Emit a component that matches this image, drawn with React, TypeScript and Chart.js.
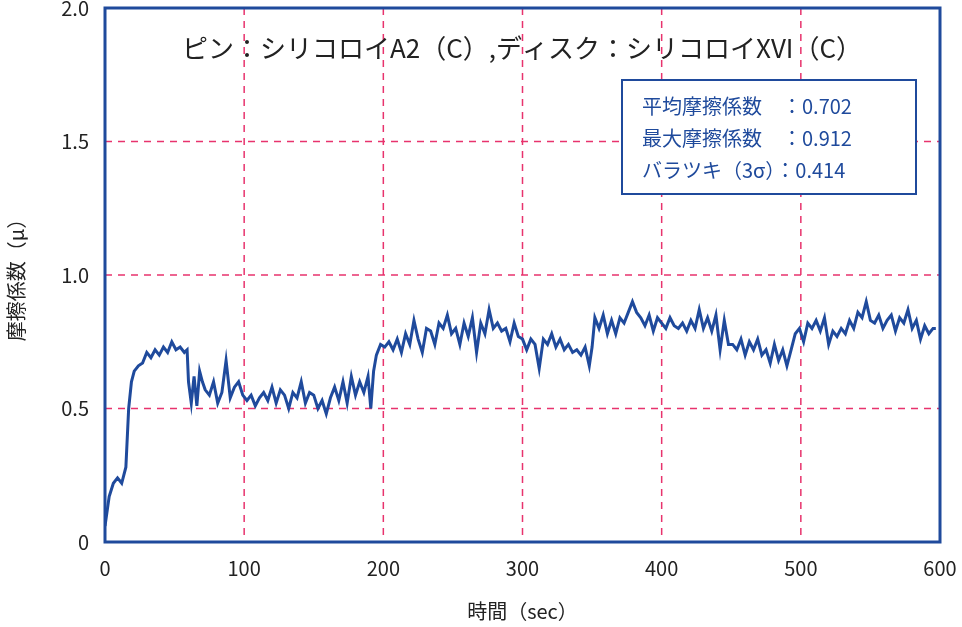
import React, { useEffect, useRef } from "react";
import { Chart, registerables } from "chart.js";
Chart.register(...registerables);

const times = [0,3,6,9,12,15,17,19,21,24,27,30,33,36,39,42,45,48,51,54,57,59,60,62,64,66,68,70,72,75,78,81,84,87,90,93,96,99,102,105,108,111,114,117,120,123,126,129,132,135,138,141,144,147,150,153,156,159,162,165,168,171,174,177,180,183,186,189,191,193,195,198,201,204,207,210,213,216,219,222,225,228,231,234,237,240,243,246,249,252,255,258,261,264,267,270,273,276,279,282,285,288,291,294,297,300,303,306,309,312,315,318,321,324,327,330,333,336,339,342,345,348,350,352,355,358,361,364,367,370,373,376,379,382,385,388,391,394,397,400,403,406,409,412,415,418,421,424,427,430,433,436,439,442,445,448,451,454,457,460,463,466,469,472,475,478,481,484,487,490,493,496,499,502,505,508,511,514,517,520,523,526,529,532,535,538,541,544,547,550,553,556,559,562,565,568,571,574,577,580,583,586,589,592,595,597];
const mu = [0.06,0.17,0.22,0.24,0.22,0.28,0.5,0.6,0.64,0.66,0.67,0.71,0.69,0.72,0.7,0.73,0.71,0.75,0.72,0.73,0.71,0.72,0.6,0.52,0.62,0.51,0.64,0.6,0.57,0.55,0.6,0.52,0.56,0.68,0.54,0.58,0.6,0.55,0.53,0.55,0.51,0.54,0.56,0.53,0.58,0.52,0.57,0.55,0.5,0.56,0.54,0.6,0.52,0.56,0.55,0.5,0.53,0.48,0.54,0.58,0.53,0.6,0.52,0.62,0.55,0.6,0.56,0.62,0.5,0.64,0.7,0.74,0.73,0.75,0.72,0.76,0.71,0.78,0.74,0.83,0.76,0.71,0.8,0.79,0.74,0.82,0.8,0.85,0.78,0.8,0.74,0.82,0.77,0.84,0.71,0.82,0.78,0.87,0.8,0.82,0.79,0.8,0.75,0.82,0.77,0.76,0.72,0.76,0.74,0.65,0.76,0.74,0.78,0.73,0.76,0.72,0.74,0.71,0.72,0.7,0.73,0.66,0.73,0.84,0.8,0.85,0.78,0.83,0.78,0.84,0.82,0.86,0.9,0.86,0.84,0.81,0.85,0.79,0.84,0.82,0.8,0.84,0.81,0.8,0.82,0.79,0.83,0.8,0.87,0.8,0.84,0.79,0.85,0.72,0.83,0.74,0.74,0.72,0.76,0.7,0.75,0.72,0.76,0.7,0.72,0.67,0.74,0.68,0.72,0.66,0.72,0.78,0.8,0.75,0.82,0.8,0.83,0.79,0.84,0.74,0.79,0.77,0.8,0.78,0.83,0.8,0.86,0.84,0.9,0.83,0.82,0.85,0.8,0.83,0.85,0.79,0.84,0.82,0.87,0.8,0.83,0.76,0.81,0.78,0.8,0.8];

const titleText = "ピン：シリコロイA2（C）,ディスク：シリコロイXVI（C）";
const statLines = ["平均摩擦係数　：0.702", "最大摩擦係数　：0.912", "バラツキ（3σ）：0.414"];
const xTitle = "時間（sec）";
const yTitle = "摩擦係数（μ）";

const BLUE = "#1f4a9c";
const GRID = "#e8336d";
const FONT = "'Noto Sans CJK JP', 'Noto Sans', sans-serif";

export default function App() {
  const ref = useRef<HTMLCanvasElement>(null);
  useEffect(() => {
    document.body.style.margin = "0";
    const gridPlugin = {
      id: "dashgrid",
      beforeDatasetsDraw(chart: any) {
        const { ctx, chartArea: a, scales } = chart;
        ctx.save();
        ctx.strokeStyle = GRID;
        ctx.lineWidth = 1.5;
        ctx.setLineDash([7, 6]);
        scales.x.ticks.forEach((t: any) => {
          if (t.value <= 0 || t.value >= 600) return;
          const px = scales.x.getPixelForValue(t.value);
          ctx.beginPath(); ctx.moveTo(px, a.top); ctx.lineTo(px, a.bottom); ctx.stroke();
        });
        scales.y.ticks.forEach((t: any) => {
          if (t.value <= 0 || t.value >= 2) return;
          const py = scales.y.getPixelForValue(t.value);
          ctx.beginPath(); ctx.moveTo(a.left, py); ctx.lineTo(a.right, py); ctx.stroke();
        });
        ctx.restore();
      },
    };
    const overlay = {
      id: "overlay",
      afterDraw(chart: any) {
        const { ctx, chartArea: a } = chart;
        ctx.save();
        ctx.strokeStyle = BLUE;
        ctx.lineWidth = 3;
        ctx.strokeRect(a.left, a.top, a.right - a.left, a.bottom - a.top);
        ctx.fillStyle = "#222";
        ctx.font = `26px ${FONT}`;
        ctx.textAlign = "center";
        ctx.textBaseline = "middle";
        ctx.fillText(titleText, 522, 48);
        ctx.strokeStyle = BLUE;
        ctx.lineWidth = 2;
        ctx.fillStyle = "#fff";
        ctx.fillRect(622, 80, 294, 114);
        ctx.strokeRect(622, 80, 294, 114);
        ctx.fillStyle = BLUE;
        ctx.font = `20px ${FONT}`;
        ctx.textAlign = "left";
        statLines.forEach((s, i) => ctx.fillText(s, 642, 106 + i * 32));
        ctx.restore();
      },
    };
    const chart = new Chart(ref.current!, {
      type: "line",
      data: {
        datasets: [{
          data: times.map((t, i) => ({ x: t, y: mu[i] })),
          borderColor: BLUE, borderWidth: 3, pointRadius: 0, tension: 0,
        }],
      },
      options: {
        animation: false, responsive: false,
        layout: { padding: { top: 8, right: 22, left: 0, bottom: 0 } },
        plugins: { legend: { display: false }, tooltip: { enabled: false } },
        scales: {
          x: {
            type: "linear", min: 0, max: 600,
            ticks: { stepSize: 100, color: "#222", font: { size: 20, family: FONT }, padding: 6 },
            grid: { display: false },
            border: { display: false },
            title: { display: true, text: xTitle, color: "#222", font: { size: 20, family: FONT } },
            afterFit: (s: any) => { s.height = 85; s.paddingLeft = 0; s.paddingRight = 0; },
          },
          y: {
            min: 0, max: 2,
            ticks: { stepSize: 0.5, color: "#222", font: { size: 20, family: FONT }, padding: 8,
              callback: (v: any) => (v === 0 ? "0" : Number(v).toFixed(1)) },
            grid: { display: false },
            border: { display: false },
            title: { display: true, text: yTitle, color: "#222", font: { size: 20, family: FONT } },
            afterFit: (s: any) => { s.width = 105; s.paddingTop = 0; s.paddingBottom = 0; },
          },
        },
      },
      plugins: [gridPlugin, overlay],
    });
    return () => chart.destroy();
  }, []);
  return <canvas ref={ref} width={962} height={627} />;
}
